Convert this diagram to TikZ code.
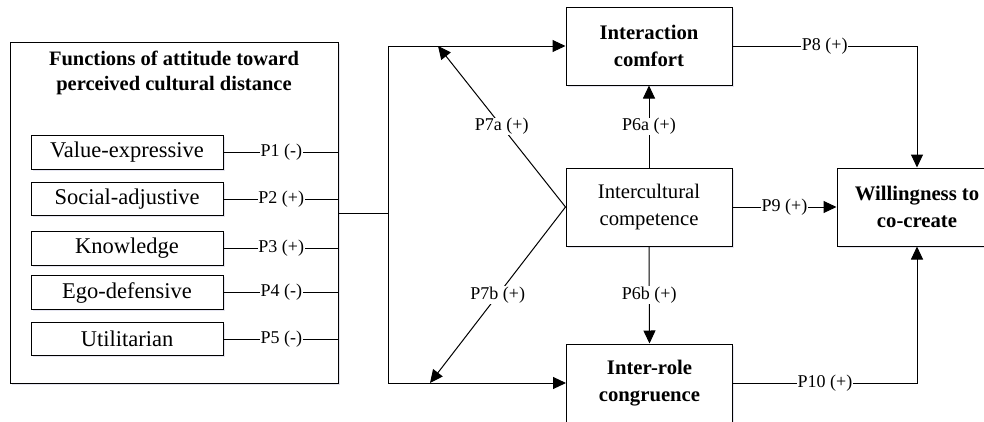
\documentclass[tikz,border=0pt]{standalone}
\usepackage{fontspec}
\setmainfont{Liberation Serif}
\usetikzlibrary{arrows.meta,shadows}
\tikzset{
  shad/.style={drop shadow={shadow xshift=1.5pt,shadow yshift=-1.5pt,fill=blue!25!gray!35,opacity=0.45}},
  bigbox/.style={draw,line width=1pt,fill=white,shad,anchor=north west,inner sep=0pt},
  fbox/.style={draw,line width=1pt,fill=white,shad,minimum width=192pt,minimum height=33.5pt,inner sep=0pt,font=\fontsize{22.5}{27}\selectfont},
  mbox/.style={draw,line width=1pt,fill=white,shad,minimum width=166pt,minimum height=78pt,inner sep=0pt,align=center,font=\fontsize{20.7}{26.5}\selectfont},
  lab/.style={fill=white,inner sep=0.6pt,font=\fontsize{18}{20}\selectfont},
  ln/.style={line width=1pt},
  arr/.style={line width=1pt,-{Triangle[length=13pt,width=12pt]}},
}
\begin{document}
\begin{tikzpicture}[x=1pt,y=-1pt]
\useasboundingbox (0,0) rectangle (984,421);
\clip (0,0) rectangle (984,421);
\fill[white] (0,0) rectangle (984,421);
% left group
\node[bigbox,minimum width=328pt,minimum height=341pt] (big) at (10,42) {};
\node[align=center,font=\fontsize{20.5}{25}\selectfont\bfseries] (title) at (174,72.5) {Functions of attitude toward\\perceived cultural distance};
\node[fbox] (f1) at (127,152.5) {Value-expressive};
\node[fbox] (f2) at (127,199) {Social-adjustive};
\node[fbox] (f3) at (127,248.5) {Knowledge};
\node[fbox] (f4) at (127,292.5) {Ego-defensive};
\node[fbox] (f5) at (127,339) {Utilitarian};
\draw[ln] (f1.east) -- node[lab]{P1 (-)} (f1.east -| big.east);
\draw[ln] (f2.east) -- node[lab]{P2 (+)} (f2.east -| big.east);
\draw[ln] (f3.east) -- node[lab]{P3 (+)} (f3.east -| big.east);
\draw[ln] (f4.east) -- node[lab]{P4 (-)} (f4.east -| big.east);
\draw[ln] (f5.east) -- node[lab]{P5 (-)} (f5.east -| big.east);
% main boxes
\node[mbox,font=\fontsize{20.7}{27}\selectfont\bfseries] (ic) at (649,46) {Interaction\\comfort};
\node[mbox] (cc) at (649,207) {Intercultural\\competence};
\node[mbox,font=\fontsize{20.7}{27}\selectfont\bfseries] (ir) at (649.5,383) {Inter-role\\congruence};
\node[mbox,minimum width=160pt,font=\fontsize{20.7}{26.5}\selectfont\bfseries] (wc) at (917,207) {Willingness to\\co-create};
% connectors from left group
\coordinate (j) at (388,213);
\draw[ln] (big.east |- j) -- (j);
\draw[arr] (j) |- (ic.west);
\draw[arr] (j) |- (ir.west);
\coordinate (t7a) at (438,46);
\coordinate (t7b) at (430,383);
\draw[arr] (cc.west) -- node[lab]{P7a (+)} (t7a);
\draw[arr] (cc.west) -- node[lab]{P7b (+)} (t7b);
\draw[arr] (cc.north) -- node[lab]{P6a (+)} (ic.south);
\draw[arr] (cc.south) -- node[lab]{P6b (+)} (ir.north);
\draw[arr] (ic.east) -- node[lab]{P8 (+)} (ic.east -| wc.north) -- (wc.north);
\draw[arr] (cc.east) -- node[lab]{P9 (+)} (wc.west);
\draw[arr] (ir.east) -- node[lab]{P10 (+)} (ir.east -| wc.south) -- (wc.south);
\end{tikzpicture}
\end{document}
